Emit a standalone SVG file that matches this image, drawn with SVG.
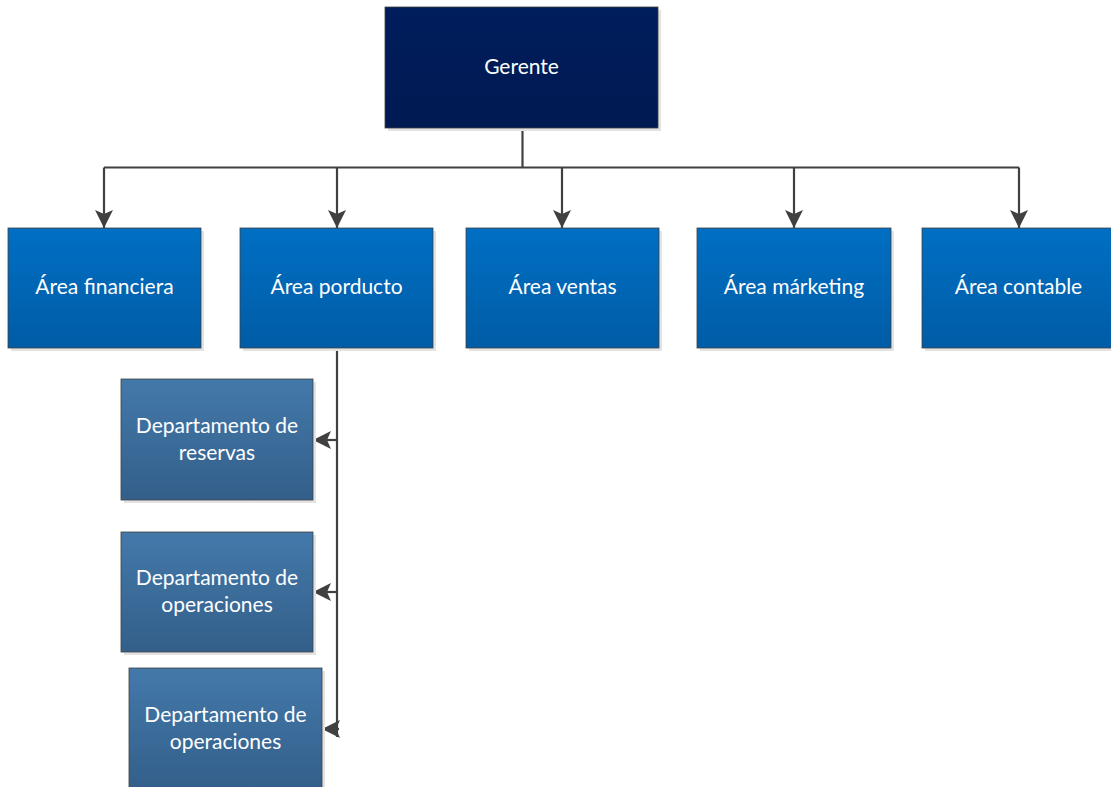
<svg xmlns="http://www.w3.org/2000/svg" width="1111" height="787" viewBox="0 0 1111 787">
<style>
.t{font-family:Lato,"Open Sans",sans-serif;font-size:21px;fill:#ffffff;text-anchor:middle}
.c{stroke:#404040;stroke-width:2.2;fill:none}
.sh{fill:#e3e3e3}
</style>
<defs>
<linearGradient id="gTop" x1="0" y1="0" x2="0" y2="1"><stop offset="0" stop-color="#001d5c"/><stop offset="1" stop-color="#001a52"/></linearGradient>
<linearGradient id="gArea" x1="0" y1="0" x2="0" y2="1"><stop offset="0" stop-color="#006fc3"/><stop offset="1" stop-color="#005ca6"/></linearGradient>
<linearGradient id="gDept" x1="0" y1="0" x2="0" y2="1"><stop offset="0" stop-color="#4379aa"/><stop offset="1" stop-color="#335f8a"/></linearGradient>
<marker id="arr" viewBox="0 0 18 18" refX="18" refY="9" markerWidth="18" markerHeight="18" markerUnits="userSpaceOnUse" orient="auto"><path d="M0,0 L18,9 L0,18 L4,9 Z" fill="#404040"/></marker>
</defs>
<g id="connectors">
<path class="c" d="M522.5,128 V167.5"/>
<path class="c" d="M104,167.5 H1019"/>
<path class="c" d="M104,167.5 V228" marker-end="url(#arr)"/>
<path class="c" d="M337,167.5 V228" marker-end="url(#arr)"/>
<path class="c" d="M562,167.5 V228" marker-end="url(#arr)"/>
<path class="c" d="M794,167.5 V228" marker-end="url(#arr)"/>
<path class="c" d="M1019,167.5 V228" marker-end="url(#arr)"/>
<path class="c" d="M337,348 V737"/>
<path class="c" d="M337,440 H313" marker-end="url(#arr)"/>
<path class="c" d="M337,592 H313" marker-end="url(#arr)"/>
<path class="c" d="M339,729 H322" marker-end="url(#arr)"/>
</g>
<g id="gerente">
<rect class="sh" x="388" y="10" width="273" height="121"/>
<rect x="385" y="7" width="273" height="121" fill="url(#gTop)" stroke="#404040" stroke-width="0.8"/>
<text class="t" x="521.5" y="74">Gerente</text>
</g>
<g id="area-financiera">
<rect class="sh" x="11" y="231" width="193" height="120"/>
<rect x="8" y="228" width="193" height="120" fill="url(#gArea)" stroke="#404040" stroke-width="0.8"/>
<text class="t" x="104.5" y="294">Área financiera</text>
</g>
<g id="area-porducto">
<rect class="sh" x="243" y="231" width="193" height="120"/>
<rect x="240" y="228" width="193" height="120" fill="url(#gArea)" stroke="#404040" stroke-width="0.8"/>
<text class="t" x="336.5" y="294">Área porducto</text>
</g>
<g id="area-ventas">
<rect class="sh" x="469" y="231" width="193" height="120"/>
<rect x="466" y="228" width="193" height="120" fill="url(#gArea)" stroke="#404040" stroke-width="0.8"/>
<text class="t" x="562.5" y="294">Área ventas</text>
</g>
<g id="area-marketing">
<rect class="sh" x="700" y="231" width="194" height="120"/>
<rect x="697" y="228" width="194" height="120" fill="url(#gArea)" stroke="#404040" stroke-width="0.8"/>
<text class="t" x="794" y="294">Área márketing</text>
</g>
<g id="area-contable">
<rect class="sh" x="925" y="231" width="193" height="120"/>
<rect x="922" y="228" width="193" height="120" fill="url(#gArea)" stroke="#404040" stroke-width="0.8"/>
<text class="t" x="1018.5" y="294">Área contable</text>
</g>
<g id="dept-reservas">
<rect class="sh" x="124" y="382" width="192" height="121"/>
<rect x="121" y="379" width="192" height="121" fill="url(#gDept)" stroke="#404040" stroke-width="0.8"/>
<text class="t" x="217" y="433">Departamento de</text>
<text class="t" x="217" y="460">reservas</text>
</g>
<g id="dept-operaciones-1">
<rect class="sh" x="124" y="535" width="192" height="120"/>
<rect x="121" y="532" width="192" height="120" fill="url(#gDept)" stroke="#404040" stroke-width="0.8"/>
<text class="t" x="217" y="585">Departamento de</text>
<text class="t" x="217" y="612">operaciones</text>
</g>
<g id="dept-operaciones-2">
<rect class="sh" x="132" y="671" width="193" height="120"/>
<rect x="129" y="668" width="193" height="122" fill="url(#gDept)" stroke="#404040" stroke-width="0.8"/>
<text class="t" x="225.5" y="722">Departamento de</text>
<text class="t" x="225.5" y="749">operaciones</text>
</g>
</svg>
